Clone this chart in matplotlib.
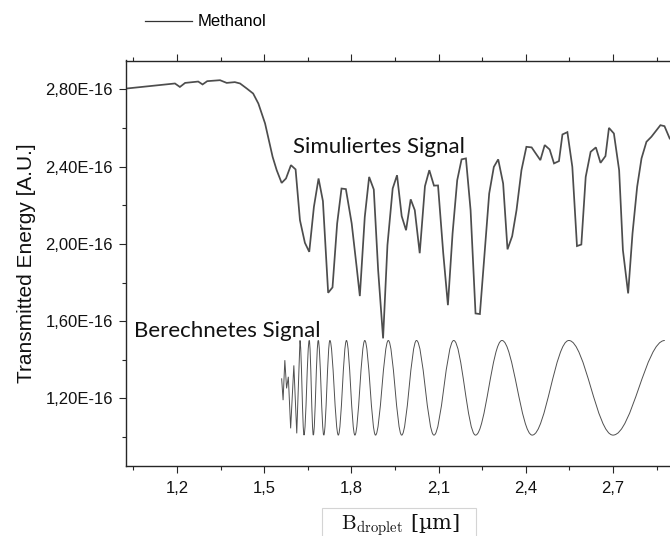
import matplotlib
matplotlib.use("Agg")
import matplotlib.pyplot as plt
from matplotlib.path import Path
from matplotlib.patches import PathPatch, Rectangle
from matplotlib.lines import Line2D

plt.rcParams["font.family"] = ["Liberation Sans", "DejaVu Sans"]
plt.rcParams["mathtext.fontset"] = "cm"

# Simulated transmission signal (x in µm, y in units of 1E-16 A.U.)
sim_x = [1.027, 1.193, 1.210, 1.228, 1.273, 1.288, 1.304, 1.348, 1.371, 1.399,
         1.417, 1.440, 1.462, 1.480, 1.503, 1.529, 1.543, 1.560, 1.575, 1.592,
         1.608, 1.623, 1.640, 1.655, 1.671, 1.687, 1.702, 1.720, 1.735, 1.751,
         1.766, 1.781, 1.801, 1.818, 1.829, 1.846, 1.861, 1.877, 1.892, 1.909,
         1.924, 1.942, 1.957, 1.973, 1.988, 2.004, 2.018, 2.035, 2.053, 2.068,
         2.084, 2.098, 2.116, 2.132, 2.148, 2.164, 2.179, 2.194, 2.210, 2.227,
         2.242, 2.259, 2.274, 2.290, 2.305, 2.322, 2.337, 2.353, 2.368, 2.385,
         2.402, 2.420, 2.434, 2.450, 2.465, 2.482, 2.497, 2.514, 2.526, 2.543,
         2.560, 2.576, 2.591, 2.606, 2.623, 2.641, 2.657, 2.674, 2.686, 2.703,
         2.721, 2.734, 2.752, 2.767, 2.783, 2.798, 2.815, 2.832, 2.863, 2.877,
         2.895]
sim_y = [2.805, 2.831, 2.813, 2.834, 2.841, 2.826, 2.843, 2.848, 2.834, 2.838,
         2.831, 2.805, 2.779, 2.727, 2.624, 2.451, 2.382, 2.316, 2.339, 2.408,
         2.386, 2.123, 2.006, 1.959, 2.192, 2.339, 2.222, 1.747, 1.775, 2.106,
         2.287, 2.284, 2.106, 1.881, 1.730, 2.140, 2.347, 2.282, 1.864, 1.511,
         1.994, 2.287, 2.356, 2.144, 2.071, 2.231, 2.175, 1.952, 2.299, 2.382,
         2.302, 2.303, 1.951, 1.683, 2.054, 2.330, 2.438, 2.443, 2.175, 1.640,
         1.637, 1.968, 2.261, 2.399, 2.438, 2.313, 1.972, 2.040, 2.175, 2.382,
         2.503, 2.500, 2.469, 2.434, 2.512, 2.489, 2.417, 2.429, 2.567, 2.579,
         2.399, 1.989, 1.997, 2.347, 2.477, 2.500, 2.420, 2.455, 2.601, 2.572,
         2.382, 1.968, 1.744, 2.054, 2.296, 2.443, 2.529, 2.555, 2.615, 2.610,
         2.546]

# Calculated signal: undersampled start, then alternating extrema
calc_lead_x = [1.560, 1.565, 1.571, 1.577, 1.583, 1.591, 1.602, 1.612]
calc_lead_y = [1.304, 1.191, 1.398, 1.252, 1.312, 1.045, 1.371, 1.019]
calc_ext_x = [1.623, 1.637, 1.655, 1.669, 1.686, 1.705, 1.726, 1.755, 1.783,
              1.812, 1.846, 1.883, 1.927, 1.973, 2.024, 2.084, 2.152, 2.227,
              2.318, 2.422, 2.548, 2.700, 2.878]
calc_ext_y = [1.50, 1.01, 1.50, 1.01, 1.50, 1.01, 1.50, 1.01, 1.50,
              1.01, 1.50, 1.01, 1.50, 1.01, 1.50, 1.01, 1.50, 1.01,
              1.50, 1.01, 1.50, 1.01, 1.50]

x_ticks = [1.2, 1.5, 1.8, 2.1, 2.4, 2.7]
x_ticklabels = ["1,2", "1,5", "1,8", "2,1", "2,4", "2,7"]
x_minor = [1.05, 1.35, 1.65, 1.95, 2.25, 2.55, 2.85]
y_ticks = [1.2, 1.6, 2.0, 2.4, 2.8]
y_ticklabels = ["1,20E-16", "1,60E-16", "2,00E-16", "2,40E-16", "2,80E-16"]
y_minor = [1.0, 1.4, 1.8, 2.2, 2.6]

W, H = 670, 536
fig = plt.figure(figsize=(W / 100, H / 100), dpi=100)
ax = fig.add_axes([126 / W, 70 / H, 544 / W, 405.5 / H])

line_col = "#4d4d4d"
ax.plot(sim_x, sim_y, color=line_col, lw=1.25, solid_joinstyle="miter")

# calculated curve: straight segments for the lead-in, cubic Beziers between extrema
k = 0.364
verts = [(calc_lead_x[0], calc_lead_y[0])]
codes = [Path.MOVETO]
for xv, yv in zip(calc_lead_x[1:], calc_lead_y[1:]):
    verts.append((xv, yv))
    codes.append(Path.LINETO)
verts.append((calc_ext_x[0], calc_ext_y[0]))
codes.append(Path.LINETO)
for i in range(1, len(calc_ext_x)):
    x0, y0 = calc_ext_x[i - 1], calc_ext_y[i - 1]
    x1, y1 = calc_ext_x[i], calc_ext_y[i]
    d = x1 - x0
    verts += [(x0 + k * d, y0), (x1 - k * d, y1), (x1, y1)]
    codes += [Path.CURVE4] * 3
ax.add_patch(PathPatch(Path(verts, codes), fill=False, edgecolor="#505050", lw=0.7))

ax.set_xlim(1.0246, 2.896)
ax.set_ylim(0.85, 2.95)
ax.set_xticks(x_ticks)
ax.set_xticklabels(x_ticklabels)
ax.set_xticks(x_minor, minor=True)
ax.set_yticks(y_ticks)
ax.set_yticklabels(y_ticklabels)
ax.set_yticks(y_minor, minor=True)

spine_col = "#262626"
for s in ("left", "bottom", "top"):
    ax.spines[s].set_color(spine_col)
    ax.spines[s].set_linewidth(1.0)
ax.spines["right"].set_visible(False)
ax.tick_params(which="both", direction="out", top=True, right=False,
               labeltop=False, color=spine_col, width=0.8, labelsize=12,
               labelcolor="#111111")
ax.tick_params(which="major", length=5, pad=4.5)
ax.tick_params(axis="x", which="major", pad=6)
ax.tick_params(which="minor", length=3)

ax.set_ylabel("Transmitted Energy [A.U.]", fontsize=15, color="#111111")
ax.yaxis.set_label_coords(-0.165, 0.5)

# x-axis label in its framed box
fig.add_artist(Rectangle((321.6 / W, -0.02), 154.4 / W, (536 - 507.5) / H + 0.02,
                         transform=fig.transFigure, facecolor="white",
                         edgecolor="#d4d4d4", lw=0.8))
fig.text(400.5 / W, 1 - 529 / H, r"$\mathrm{B}_{\mathrm{droplet}}$ [µm]",
         ha="center", va="baseline", fontsize=15,
         family=["DejaVu Serif"], color="#111111")

fig.text(293 / W, 1 - 153 / H, "Simuliertes Signal", ha="left", va="baseline",
         fontsize=16, family=["Lato", "DejaVu Sans"], color="#111111")
fig.text(134 / W, 1 - 337 / H, "Berechnetes Signal", ha="left", va="baseline",
         fontsize=16, family=["Lato", "DejaVu Sans"], color="#111111")

legend_handle = Line2D([], [], color="#333333", lw=0.9)
fig.legend([legend_handle], ["Methanol"], loc="center left",
           bbox_to_anchor=(145 / W, 1 - 22 / H), frameon=False, fontsize=12,
           handlelength=2.8, handletextpad=0.35, borderpad=0, borderaxespad=0)

fig.savefig("out.png", dpi=100)
